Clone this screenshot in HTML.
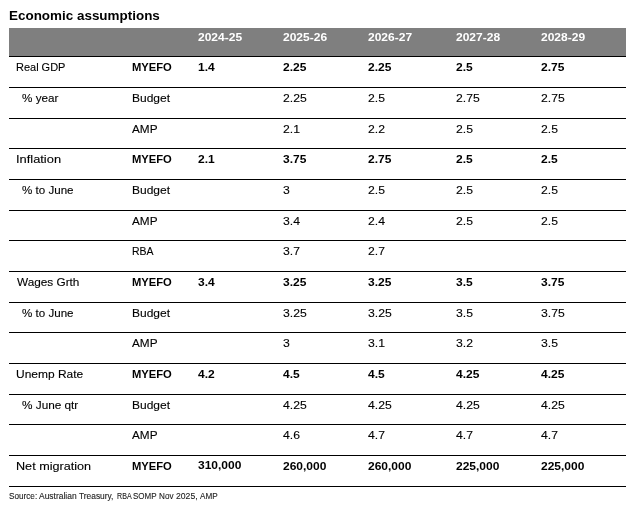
<!DOCTYPE html>
<html lang="en">
<head>
<meta charset="utf-8">
<title>Economic assumptions</title>
<style>
html,body{margin:0;padding:0;background:#fff}
body{width:637px;height:511px;position:relative;overflow:hidden;font-family:"Liberation Sans", sans-serif;color:#000}
h1,p,div,span{margin:0;padding:0;font-size:inherit;font-weight:inherit}
.t{position:absolute;display:block;white-space:pre;line-height:1;transform-origin:0 0;-webkit-text-stroke:0.12px}
.b{font-weight:bold;-webkit-text-stroke:0}
.head{position:absolute;left:9px;top:28px;width:617px;height:28px;background:#7f7f7f}
.ln{position:absolute;left:9px;width:617px;height:1px;background:#000}
</style>
</head>
<body>
<h1 class="t b" style="left:9px;top:9px;font-size:13.2px;transform:scaleX(1.019)">Economic assumptions</h1>
<div class="table">
<div class="head"></div>
<div class="ln" style="top:56px"></div>
<div class="row hrow"><span class="t b" style="left:198px;top:32px;font-size:11.8px;transform:scaleX(1.019);color:#fff">2024-25</span><span class="t b" style="left:283px;top:32px;font-size:11.8px;transform:scaleX(1.019);color:#fff">2025-26</span><span class="t b" style="left:368px;top:32px;font-size:11.8px;transform:scaleX(1.019);color:#fff">2026-27</span><span class="t b" style="left:456px;top:32px;font-size:11.8px;transform:scaleX(1.019);color:#fff">2027-28</span><span class="t b" style="left:541px;top:32px;font-size:11.8px;transform:scaleX(1.019);color:#fff">2028-29</span></div>
<div class="row"><span class="t" style="left:16px;top:62px;font-size:11.5px;transform:scaleX(0.954)">Real GDP</span><span class="t b" style="left:132px;top:62px;font-size:11.5px;transform:scaleX(0.974)">MYEFO</span><span class="t b" style="left:198px;top:62px;font-size:11.5px;transform:scaleX(1.044)">1.4</span><span class="t b" style="left:283px;top:62px;font-size:11.5px;transform:scaleX(1.044)">2.25</span><span class="t b" style="left:368px;top:62px;font-size:11.5px;transform:scaleX(1.044)">2.25</span><span class="t b" style="left:456px;top:62px;font-size:11.5px;transform:scaleX(1.044)">2.5</span><span class="t b" style="left:541px;top:62px;font-size:11.5px;transform:scaleX(1.044)">2.75</span></div>
<div class="ln" style="top:87px"></div>
<div class="row"><span class="t" style="left:22px;top:93px;font-size:11.5px;transform:scaleX(1.016)">% year</span><span class="t" style="left:132px;top:93px;font-size:11.5px;transform:scaleX(1.043)">Budget</span><span class="t" style="left:283px;top:93px;font-size:11.5px;transform:scaleX(1.061)">2.25</span><span class="t" style="left:368px;top:93px;font-size:11.5px;transform:scaleX(1.061)">2.5</span><span class="t" style="left:456px;top:93px;font-size:11.5px;transform:scaleX(1.061)">2.75</span><span class="t" style="left:541px;top:93px;font-size:11.5px;transform:scaleX(1.061)">2.75</span></div>
<div class="ln" style="top:118px"></div>
<div class="row"><span class="t" style="left:132px;top:124px;font-size:11.5px;transform:scaleX(1.022)">AMP</span><span class="t" style="left:283px;top:124px;font-size:11.5px;transform:scaleX(1.061)">2.1</span><span class="t" style="left:368px;top:124px;font-size:11.5px;transform:scaleX(1.061)">2.2</span><span class="t" style="left:456px;top:124px;font-size:11.5px;transform:scaleX(1.061)">2.5</span><span class="t" style="left:541px;top:124px;font-size:11.5px;transform:scaleX(1.061)">2.5</span></div>
<div class="ln" style="top:148px"></div>
<div class="row"><span class="t" style="left:16px;top:154px;font-size:11.5px;transform:scaleX(1.118)">Inflation</span><span class="t b" style="left:132px;top:154px;font-size:11.5px;transform:scaleX(0.974)">MYEFO</span><span class="t b" style="left:198px;top:154px;font-size:11.5px;transform:scaleX(1.044)">2.1</span><span class="t b" style="left:283px;top:154px;font-size:11.5px;transform:scaleX(1.044)">3.75</span><span class="t b" style="left:368px;top:154px;font-size:11.5px;transform:scaleX(1.044)">2.75</span><span class="t b" style="left:456px;top:154px;font-size:11.5px;transform:scaleX(1.044)">2.5</span><span class="t b" style="left:541px;top:154px;font-size:11.5px;transform:scaleX(1.044)">2.5</span></div>
<div class="ln" style="top:179px"></div>
<div class="row"><span class="t" style="left:22px;top:185px;font-size:11.5px;transform:scaleX(1.008)">% to June</span><span class="t" style="left:132px;top:185px;font-size:11.5px;transform:scaleX(1.043)">Budget</span><span class="t" style="left:283px;top:185px;font-size:11.5px;transform:scaleX(1.061)">3</span><span class="t" style="left:368px;top:185px;font-size:11.5px;transform:scaleX(1.061)">2.5</span><span class="t" style="left:456px;top:185px;font-size:11.5px;transform:scaleX(1.061)">2.5</span><span class="t" style="left:541px;top:185px;font-size:11.5px;transform:scaleX(1.061)">2.5</span></div>
<div class="ln" style="top:210px"></div>
<div class="row"><span class="t" style="left:132px;top:216px;font-size:11.5px;transform:scaleX(1.022)">AMP</span><span class="t" style="left:283px;top:216px;font-size:11.5px;transform:scaleX(1.061)">3.4</span><span class="t" style="left:368px;top:216px;font-size:11.5px;transform:scaleX(1.061)">2.4</span><span class="t" style="left:456px;top:216px;font-size:11.5px;transform:scaleX(1.061)">2.5</span><span class="t" style="left:541px;top:216px;font-size:11.5px;transform:scaleX(1.061)">2.5</span></div>
<div class="ln" style="top:240px"></div>
<div class="row"><span class="t" style="left:132px;top:246px;font-size:11.5px;transform:scaleX(0.912)">RBA</span><span class="t" style="left:283px;top:246px;font-size:11.5px;transform:scaleX(1.061)">3.7</span><span class="t" style="left:368px;top:246px;font-size:11.5px;transform:scaleX(1.061)">2.7</span></div>
<div class="ln" style="top:271px"></div>
<div class="row"><span class="t" style="left:17px;top:277px;font-size:11.5px;transform:scaleX(1.024)">Wages Grth</span><span class="t b" style="left:132px;top:277px;font-size:11.5px;transform:scaleX(0.974)">MYEFO</span><span class="t b" style="left:198px;top:277px;font-size:11.5px;transform:scaleX(1.044)">3.4</span><span class="t b" style="left:283px;top:277px;font-size:11.5px;transform:scaleX(1.044)">3.25</span><span class="t b" style="left:368px;top:277px;font-size:11.5px;transform:scaleX(1.044)">3.25</span><span class="t b" style="left:456px;top:277px;font-size:11.5px;transform:scaleX(1.044)">3.5</span><span class="t b" style="left:541px;top:277px;font-size:11.5px;transform:scaleX(1.044)">3.75</span></div>
<div class="ln" style="top:302px"></div>
<div class="row"><span class="t" style="left:22px;top:308px;font-size:11.5px;transform:scaleX(1.008)">% to June</span><span class="t" style="left:132px;top:308px;font-size:11.5px;transform:scaleX(1.043)">Budget</span><span class="t" style="left:283px;top:308px;font-size:11.5px;transform:scaleX(1.061)">3.25</span><span class="t" style="left:368px;top:308px;font-size:11.5px;transform:scaleX(1.061)">3.25</span><span class="t" style="left:456px;top:308px;font-size:11.5px;transform:scaleX(1.061)">3.5</span><span class="t" style="left:541px;top:308px;font-size:11.5px;transform:scaleX(1.061)">3.75</span></div>
<div class="ln" style="top:332px"></div>
<div class="row"><span class="t" style="left:132px;top:338px;font-size:11.5px;transform:scaleX(1.022)">AMP</span><span class="t" style="left:283px;top:338px;font-size:11.5px;transform:scaleX(1.061)">3</span><span class="t" style="left:368px;top:338px;font-size:11.5px;transform:scaleX(1.061)">3.1</span><span class="t" style="left:456px;top:338px;font-size:11.5px;transform:scaleX(1.061)">3.2</span><span class="t" style="left:541px;top:338px;font-size:11.5px;transform:scaleX(1.061)">3.5</span></div>
<div class="ln" style="top:363px"></div>
<div class="row"><span class="t" style="left:16px;top:369px;font-size:11.5px;transform:scaleX(1.040)">Unemp Rate</span><span class="t b" style="left:132px;top:369px;font-size:11.5px;transform:scaleX(0.974)">MYEFO</span><span class="t b" style="left:198px;top:369px;font-size:11.5px;transform:scaleX(1.044)">4.2</span><span class="t b" style="left:283px;top:369px;font-size:11.5px;transform:scaleX(1.044)">4.5</span><span class="t b" style="left:368px;top:369px;font-size:11.5px;transform:scaleX(1.044)">4.5</span><span class="t b" style="left:456px;top:369px;font-size:11.5px;transform:scaleX(1.044)">4.25</span><span class="t b" style="left:541px;top:369px;font-size:11.5px;transform:scaleX(1.044)">4.25</span></div>
<div class="ln" style="top:394px"></div>
<div class="row"><span class="t" style="left:22px;top:400px;font-size:11.5px;transform:scaleX(1.024)">% June qtr</span><span class="t" style="left:132px;top:400px;font-size:11.5px;transform:scaleX(1.043)">Budget</span><span class="t" style="left:283px;top:400px;font-size:11.5px;transform:scaleX(1.061)">4.25</span><span class="t" style="left:368px;top:400px;font-size:11.5px;transform:scaleX(1.061)">4.25</span><span class="t" style="left:456px;top:400px;font-size:11.5px;transform:scaleX(1.061)">4.25</span><span class="t" style="left:541px;top:400px;font-size:11.5px;transform:scaleX(1.061)">4.25</span></div>
<div class="ln" style="top:424px"></div>
<div class="row"><span class="t" style="left:132px;top:430px;font-size:11.5px;transform:scaleX(1.022)">AMP</span><span class="t" style="left:283px;top:430px;font-size:11.5px;transform:scaleX(1.061)">4.6</span><span class="t" style="left:368px;top:430px;font-size:11.5px;transform:scaleX(1.061)">4.7</span><span class="t" style="left:456px;top:430px;font-size:11.5px;transform:scaleX(1.061)">4.7</span><span class="t" style="left:541px;top:430px;font-size:11.5px;transform:scaleX(1.061)">4.7</span></div>
<div class="ln" style="top:455px"></div>
<div class="row"><span class="t" style="left:16px;top:461px;font-size:11.5px;transform:scaleX(1.097)">Net migration</span><span class="t b" style="left:132px;top:461px;font-size:11.5px;transform:scaleX(0.974)">MYEFO</span><span class="t b" style="left:198px;top:460px;font-size:11.5px;transform:scaleX(1.044)">310,000</span><span class="t b" style="left:283px;top:461px;font-size:11.5px;transform:scaleX(1.044)">260,000</span><span class="t b" style="left:368px;top:461px;font-size:11.5px;transform:scaleX(1.044)">260,000</span><span class="t b" style="left:456px;top:461px;font-size:11.5px;transform:scaleX(1.044)">225,000</span><span class="t b" style="left:541px;top:461px;font-size:11.5px;transform:scaleX(1.044)">225,000</span></div>
<div class="ln" style="top:486px"></div>
</div>
<p class="source"><span class="t" style="left:9px;top:492px;font-size:9.0px;transform:scaleX(0.908);color:#222">Source:</span> <span class="t" style="left:39px;top:492px;font-size:9.0px;transform:scaleX(0.939);color:#222">Australian</span> <span class="t" style="left:79px;top:492px;font-size:9.0px;transform:scaleX(0.931);color:#222">Treasury,</span> <span class="t" style="left:117px;top:492px;font-size:9.0px;transform:scaleX(0.790);color:#222">RBA</span> <span class="t" style="left:133px;top:492px;font-size:9.0px;transform:scaleX(0.889);color:#222">SOMP</span> <span class="t" style="left:159px;top:492px;font-size:9.0px;transform:scaleX(0.904);color:#222">Nov</span> <span class="t" style="left:176px;top:492px;font-size:9.0px;transform:scaleX(0.961);color:#222">2025,</span> <span class="t" style="left:200px;top:492px;font-size:9.0px;transform:scaleX(0.904);color:#222">AMP</span></p>
</body>
</html>
